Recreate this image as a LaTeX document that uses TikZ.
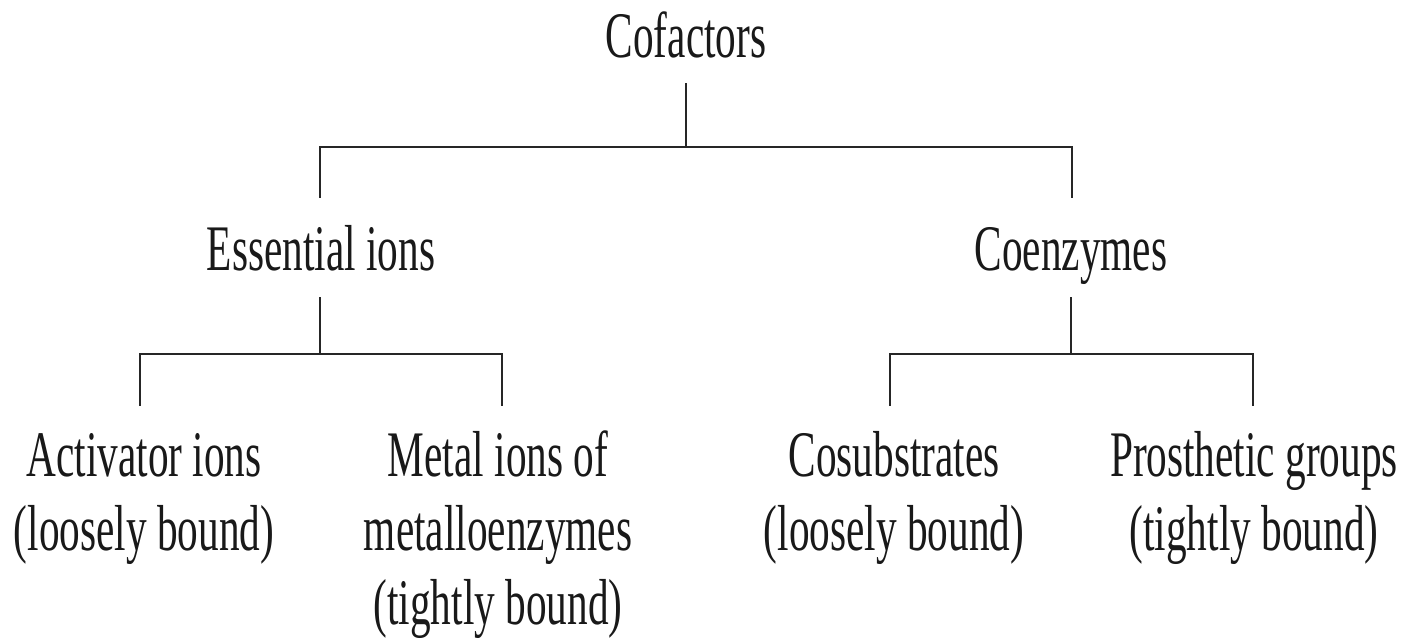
\documentclass[tikz,border=0pt]{standalone}
\usepackage{fontspec}
\newfontfamily\labelfont[FakeStretch=0.635]{Liberation Serif}
\begin{document}
\begin{tikzpicture}[x=1pt,y=-1pt,
  lbl/.style={anchor=base,inner sep=0pt,text=black!90,
    font=\labelfont\fontsize{65}{74}\selectfont},
  conn/.style={draw=black!85,line width=2.6pt,line cap=rect}]
\useasboundingbox[fill=white] (0,0) rectangle (1409,640);
\newcommand{\stackl}[1]{\begin{tabular}[t]{@{}c@{}}#1\end{tabular}}
% labels
\node[lbl] (cof) at (686,57) {Cofactors};
\node[lbl] (ess) at (321,270) {Essential ions};
\node[lbl] (coe) at (1071,270) {Coenzymes};
\node[lbl] (act) at (144,476) {\stackl{Activator ions\\(loosely bound)}};
\node[lbl] (met) at (498,476) {\stackl{Metal ions of\\metalloenzymes\\(tightly bound)}};
\node[lbl] (cos) at (894,476) {\stackl{Cosubstrates\\(loosely bound)}};
\node[lbl] (pro) at (1254,476) {\stackl{Prosthetic groups\\(tightly bound)}};
% connector end points
\coordinate (cofB) at (686,84);
\coordinate (busT) at (686,147);
\coordinate (essT) at (320,197);
\coordinate (coeT) at (1072,197);
\coordinate (essB) at (320,298);
\coordinate (coeB) at (1071,298);
\coordinate (busL) at (320,354);
\coordinate (busR) at (1071,354);
\coordinate (actT) at (140,405);
\coordinate (metT) at (502,405);
\coordinate (cosT) at (890,405);
\coordinate (proT) at (1253,405);
% connectors
\draw[conn] (cofB) -- (busT);
\draw[conn] (essT) |- (busT) -| (coeT);
\draw[conn] (essB) -- (busL);
\draw[conn] (actT) |- (busL) -| (metT);
\draw[conn] (coeB) -- (busR);
\draw[conn] (cosT) |- (busR) -| (proT);
\end{tikzpicture}
\end{document}
